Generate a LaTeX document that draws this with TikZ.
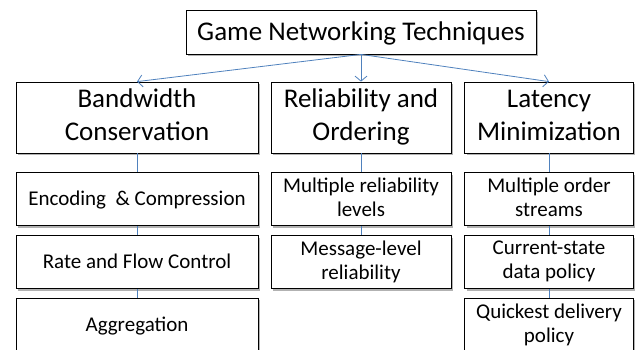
\documentclass[tikz,border=0pt]{standalone}
\usepackage{fontspec}
\setmainfont{Carlito}
\usetikzlibrary{arrows.meta,shadows,positioning}

\definecolor{linkblue}{RGB}{79,129,189}

\begin{document}
\begin{tikzpicture}[
        x=1pt, y=1pt,
        every node/.style={draw, fill=white, align=center, inner sep=2pt, line width=0.8pt,
            drop shadow={shadow xshift=2pt, shadow yshift=-2pt, fill=black, opacity=0.3}},
        struts/.style 2 args={execute at begin node={\rule{0pt}{#1}},
            execute at end node={\rule[-#2]{0pt}{#2}}},
        topic/.style={struts={21pt}{5pt}, minimum height=71pt, font=\fontsize{27}{33}\selectfont},
        item/.style={struts={17pt}{4pt}, minimum height=53pt, font=\fontsize{21}{24}\selectfont},
        link/.style={draw=linkblue, line width=0.8pt},
        arrowlink/.style={link, -{Straight Barb[length=5pt, width=12pt]}}
    ]
    \useasboundingbox (0,0) rectangle (635,-349);

    % Nodes
    \node (root) [struts={21pt}{5pt}, minimum width=350pt, minimum height=44pt, font=\fontsize{27}{30}\selectfont]
        at (361,-32) {Game Networking Techniques};

    \node (bandwidth) [topic, minimum width=242pt] at (137,-117.5) {Bandwidth\\Conservation};
    \node (reliability) [topic, minimum width=180pt] at (361,-117.5) {Reliability and\\Ordering};
    \node (latency) [topic, minimum width=169pt] at (549,-117.5) {Latency\\Minimization};

    \node (encoding) [item, minimum width=242pt, below=19pt of bandwidth] {Encoding \ \& Compression};
    \node (rate) [item, minimum width=242pt, below=9pt of encoding] {Rate and Flow Control};
    \node (aggregation) [item, minimum width=242pt, below=9pt of rate] {Aggregation};

    \node (levels) [item, minimum width=180pt, below=19pt of reliability] {Multiple reliability\\levels};
    \node (message) [item, minimum width=180pt, below=9pt of levels] {Message-level\\reliability};

    \node (streams) [item, minimum width=169pt, below=19pt of latency] {Multiple order\\streams};
    \node (current) [item, minimum width=169pt, below=9pt of streams] {Current-state\\data policy};
    \node (quickest) [item, minimum width=169pt, below=9pt of current] {Quickest delivery\\policy};

    % Edges
    \draw[arrowlink] (root.south) -- (bandwidth.north);
    \draw[arrowlink] (root.south) -- (reliability.north);
    \draw[arrowlink] (root.south) -- (latency.north);
    \draw[link] (bandwidth) -- (encoding);
    \draw[link] (encoding) -- (rate);
    \draw[link] (rate) -- (aggregation);
    \draw[link] (reliability) -- (levels);
    \draw[link] (levels) -- (message);
    \draw[link] (latency) -- (streams);
    \draw[link] (streams) -- (current);
    \draw[link] (current) -- (quickest);

\end{tikzpicture}
\end{document}
